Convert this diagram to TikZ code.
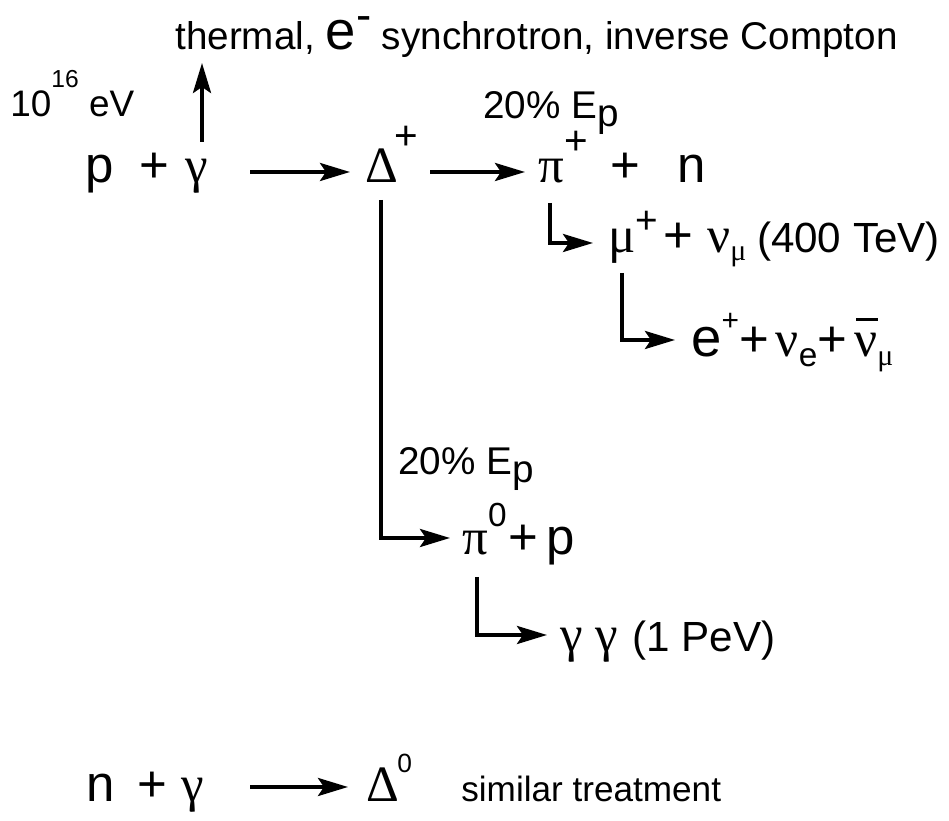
\documentclass[tikz,border=0pt]{standalone}
\usepackage{fontspec}
\setmainfont{Liberation Sans}
\newfontfamily\grk{Liberation Serif}
\usepackage{tikz}
\usetikzlibrary{arrows.meta}
\newcommand{\up}[3]{\raisebox{#1}{\fontsize{#2}{#2}\selectfont #3}}
\newcommand{\nubar}{\rlap{\hspace{0.04em}\raisebox{0.7em}{\rule{0.42em}{0.065em}}}ν}

\begin{document}
\begin{tikzpicture}[
    main/.style={anchor=base west, inner sep=0pt, font=\fontsize{29}{31}\selectfont},
    note/.style={main, font=\fontsize{22}{24}\selectfont},
    arrow/.style={-{Stealth[length=0.6cm,width=0.36cm,inset=0.12cm]}, line width=2.2pt}
]
\useasboundingbox (0,0) rectangle (18.98,16.42);
\node[note] (thermal) at (3.50,15.42) {thermal, {\fontsize{31}{31}\selectfont e}\up{11pt}{26}{-} synchrotron, inverse Compton};
\node[note, font=\fontsize{21}{23}\selectfont] (energy) at (0.20,14.08) {10\up{17pt}{14}{16} eV};
\node[main] (prot) at (1.70,12.76) {p\hspace{0.5em}+};
\node[main] (gam) at (3.70,12.76) {\grk γ};
\node[main] (delta) at (7.30,12.76) {{\grk Δ}\kern-2pt\up{19pt}{23}{+}};
\node[note] (frac1) at (9.66,14.04) {20\% E\up{-4pt}{22}{p}};
\node[main] (pip) at (10.76,12.76) {{\grk π}\up{16pt}{23}{+}\hspace{0.45em}+\hspace{0.72em}n};
\node[main] (mup) at (12.16,11.36) {{\grk μ}\up{11pt}{22}{+}\hspace{3pt}+ {\grk ν}\up{-4pt}{17}{\grk μ}\hspace{6pt}{\fontsize{24}{26}\selectfont(400 TeV)}};
\node[main] (ep) at (13.82,9.28) {{\fontsize{31}{31}\selectfont e}\up{15pt}{17}{+}+\hspace{4pt}{\grk ν}\up{-5.5pt}{19}{e}+\hspace{4pt}{\grk\nubar}\up{-5pt}{17}{\grk μ}};
\node[note] (frac2) at (7.96,6.92) {20\% E\up{-4pt}{22}{p}};
\node[main] (pi0) at (9.24,5.32) {{\grk π}\up{16pt}{19}{0}\hspace{1pt}+\hspace{5pt}p};
\node[main] (gg) at (11.20,3.38) {{\grk γ γ} {\fontsize{24}{26}\selectfont(1 PeV)}};
\node[main] (neut) at (1.72,0.38) {n\hspace{0.45em}+};
\node[main] (gam0) at (3.62,0.38) {\grk γ};
\node[main] (delta0) at (7.32,0.38) {{\grk Δ}\kern-1pt\up{17pt}{15}{0}};
\node[note, font=\fontsize{20}{22}\selectfont] (similar) at (9.22,0.38) {similar treatment};
\draw[arrow] ([shift={(0.34,0.82)}]gam.base west) -- ([shift={(0.54,-0.26)}]thermal.base west);
\draw[arrow] ([shift={(1.3,0.22)}]gam.base west) -- ([shift={(-0.3,0.22)}]delta.base west);
\draw[arrow] ([shift={(1.3,0.22)}]delta.base west) -- ([shift={(-0.26,0.22)}]pip.base west);
\draw[arrow] ([shift={(0.24,-0.4)}]pip.base west) |- ([shift={(-0.3,0.2)}]mup.base west);
\draw[arrow] ([shift={(0.28,-0.4)}]mup.base west) |- ([shift={(-0.32,0.34)}]ep.base west);
\draw[arrow] ([shift={(0.32,-0.34)}]delta.base west) |- ([shift={(-0.24,0.34)}]pi0.base west);
\draw[arrow] ([shift={(0.3,-0.44)}]pi0.base west) |- ([shift={(-0.26,0.34)}]gg.base west);
\draw[arrow] ([shift={(1.38,0.3)}]gam0.base west) -- ([shift={(-0.36,0.3)}]delta0.base west);
\end{tikzpicture}
\end{document}
